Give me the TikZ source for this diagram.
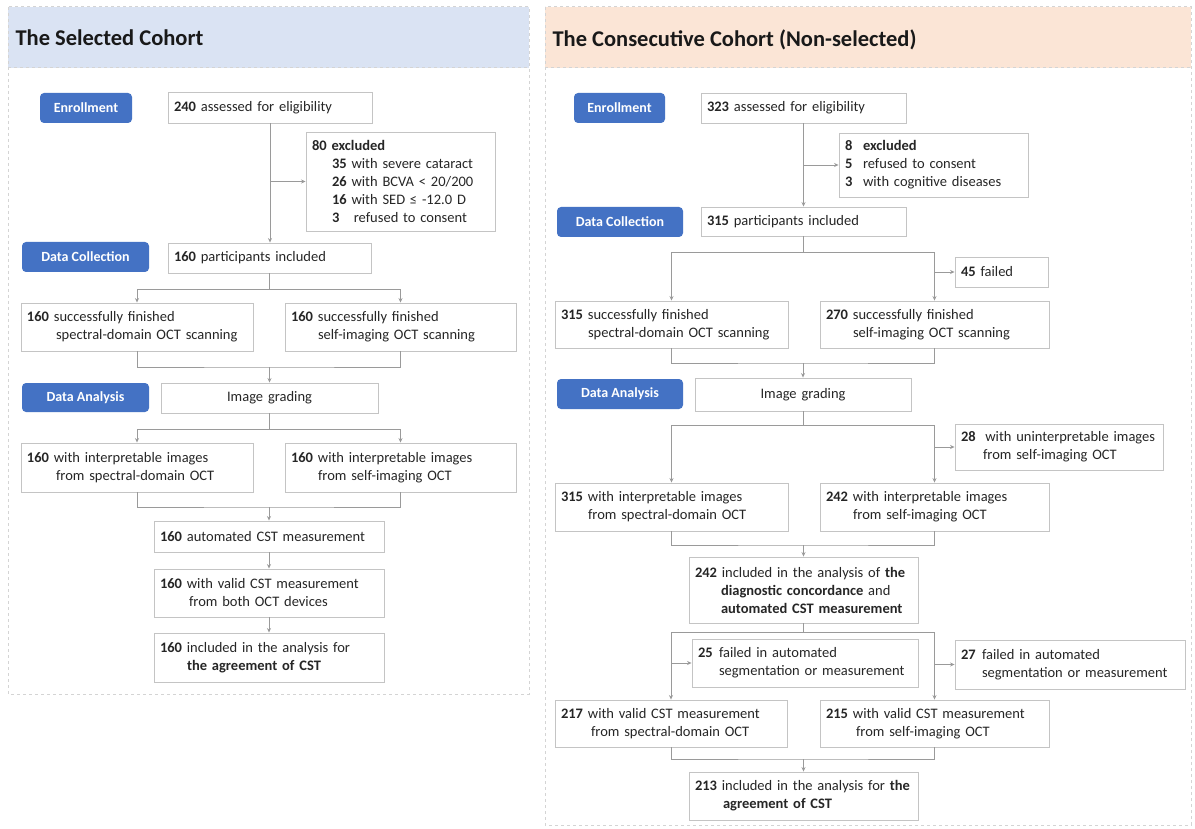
\documentclass[tikz,border=0pt]{standalone}
\usepackage{fontspec}
\setmainfont{Carlito}
\usetikzlibrary{arrows.meta}
\definecolor{btnblue}{HTML}{4472C4}
\definecolor{hdrblue}{HTML}{DAE3F3}
\definecolor{hdrpeach}{HTML}{FBE5D6}
\definecolor{boxline}{HTML}{C4C4C4}
\definecolor{arrline}{HTML}{9A9A9A}
\definecolor{panelline}{HTML}{D4D4D4}
\definecolor{txt}{HTML}{262626}
\tikzset{
  fbox/.style={draw=boxline, fill=white, line width=0.9pt, inner xsep=6pt, inner ysep=2pt,
    align=left, text=txt, font=\fontsize{14.5}{18}\selectfont},
  cbox/.style={fbox, align=center},
  btn/.style={fill=btnblue, rounded corners=4pt, text=white, inner sep=0pt,
    font=\fontsize{14}{17}\selectfont\bfseries},
  arr/.style={draw=arrline, line width=0.8pt, -{Stealth[length=4.5pt,width=4pt]}},
  lnk/.style={draw=arrline, line width=0.8pt},
  panel/.style={draw=panelline, line width=1pt, dash pattern=on 3pt off 3pt},
  ttl/.style={anchor=west, text=black!90, font=\fontsize{22.5}{27}\selectfont\bfseries}
}
\newcommand\flowbx[7][fbox]{%
  \pgfmathsetmacro\fbw{#5-#3}%
  \pgfmathsetmacro\fbh{#6-#4}%
  \pgfmathsetmacro\fbt{#5-#3-12}%
  \pgfmathsetmacro\fbx{(#3+#5)/2}%
  \pgfmathsetmacro\fby{(#4+#6)/2}%
  \node[#1, minimum width=\fbw pt, minimum height=\fbh pt, text width=\fbt pt] (#2) at (\fbx,\fby) {#7};}
\newcommand\flowbtn[6]{%
  \pgfmathsetmacro\fbw{#4-#2}%
  \pgfmathsetmacro\fbh{#5-#3}%
  \pgfmathsetmacro\fbx{(#2+#4)/2}%
  \pgfmathsetmacro\fby{(#3+#5)/2}%
  \node[btn, minimum width=\fbw pt, minimum height=\fbh pt] (#1) at (\fbx,\fby) {#6};}
\newcommand\ind[1]{\hspace*{#1pt}}
\newcommand\nb[2]{\makebox[#1pt][l]{\textbf{#2}}}
\begin{document}
\begin{tikzpicture}[x=1pt,y=-1pt]
\useasboundingbox (0,0) rectangle (1195,829);
\fill[white] (0,0) rectangle (1195,829);
% ---------- panels ----------
\fill[hdrblue] (8,7) rectangle (529,68);
\draw[panel] (8,7) rectangle (529,694);
\draw[panel] (8,68) -- (529,68);
\fill[hdrpeach] (545,7) rectangle (1191,68);
\draw[panel] (545,7) rectangle (1191,825);
\draw[panel] (545,68) -- (1191,68);
\node[ttl] (Ltitle) at (12,38) {The Selected Cohort};
\node[ttl] (Rtitle) at (549,40) {The Consecutive Cohort (Non-selected)};
% ---------- left cohort ----------
\flowbtn{Lbe}{40}{93}{132}{123}{Enrollment}
\flowbtn{Lbc}{22}{242}{149}{272}{Data Collection}
\flowbtn{Lba}{22}{383}{149}{412}{Data Analysis}
\flowbx{Lb240}{168}{92}{372}{123}{\textbf{240} assessed for eligibility}
\flowbx{Lex}{306}{132}{495}{231}{\textbf{80 excluded}\\\ind{20}\textbf{35} with severe cataract\\\ind{20}\textbf{26} with BCVA < 20/200\\\ind{20}\textbf{16} with SED ≤ -12.0 D\\\ind{20}\textbf{3}\ \ \ refused to consent}
\flowbx{Lp160}{168}{243}{371}{273}{\textbf{160} participants included}
\flowbx{Lsd1}{21}{303}{253}{351}{\textbf{160} successfully finished\\\ind{29}spectral-domain OCT scanning}
\flowbx{Lsi1}{285}{303}{516}{351}{\textbf{160} successfully finished\\\ind{27}self-imaging OCT scanning}
\flowbx[cbox]{Lig}{161}{383}{378}{413}{Image grading}
\flowbx{Lsd2}{21}{443}{253}{492}{\textbf{160} with interpretable images\\\ind{29}from spectral-domain OCT}
\flowbx{Lsi2}{285}{443}{516}{492}{\textbf{160} with interpretable images\\\ind{27}from self-imaging OCT}
\flowbx{Lcst}{154}{521}{384}{552}{\textbf{160} automated CST measurement}
\flowbx{Lval}{154}{569}{384}{617}{\textbf{160} with valid CST measurement\\\ind{29}from both OCT devices}
\flowbx{Linc}{154}{633}{384}{682}{\textbf{160} included in the analysis for\\\ind{27}\textbf{the agreement of CST}}
% left connectors
\draw[arr] (Lb240.south) -- (Lb240.south |- Lp160.north);
\draw[arr] (Lb240.south |- Lex.west) -- (Lex.west);
\coordinate (Ls1) at (269.5,289);
\draw[lnk] (Lp160.south) -- (Ls1);
\draw[arr] (Ls1) -| (Lsd1.north);
\draw[arr] (Ls1) -| (Lsi1.north);
\coordinate (Lj1) at (269.5,367);
\draw[lnk] (Lsd1.south) |- (Lj1) -| (Lsi1.south);
\draw[arr] (Lj1) -- (Lig.north);
\coordinate (Ls2) at (269.5,429);
\draw[lnk] (Lig.south) -- (Ls2);
\draw[arr] (Ls2) -| (Lsd2.north);
\draw[arr] (Ls2) -| (Lsi2.north);
\coordinate (Lj2) at (269,507);
\draw[lnk] (Lsd2.south) |- (Lj2) -| (Lsi2.south);
\draw[arr] (Lj2) -- (Lcst.north);
\draw[arr] (Lcst.south) -- (Lval.north);
\draw[arr] (Lval.south) -- (Linc.north);
% ---------- right cohort ----------
\flowbtn{Rbe}{574}{93}{665}{123}{Enrollment}
\flowbtn{Rbc}{557}{207}{683}{237}{Data Collection}
\flowbtn{Rba}{557}{379}{683}{409}{Data Analysis}
\flowbx{Rb323}{701}{93}{906}{123}{\textbf{323} assessed for eligibility}
\flowbx{Rex}{839}{133}{1028}{197}{\nb{18}{8}\textbf{excluded}\\\nb{18}{5}refused to consent\\\nb{18}{3}with cognitive diseases}
\flowbx{Rp315}{701}{207}{906}{236}{\textbf{315} participants included}
\flowbx{Rf45}{955}{257}{1048}{287}{\textbf{45} failed}
\flowbx{Rsd1}{555}{301}{788}{348}{\textbf{315} successfully finished\\\ind{27}spectral-domain OCT scanning}
\flowbx{Rsi1}{820}{301}{1049}{348}{\textbf{270} successfully finished\\\ind{27}self-imaging OCT scanning}
\flowbx[cbox]{Rig}{695}{378}{911}{411}{Image grading}
\flowbx{Ru28}{955}{424}{1163}{470}{\textbf{28}\ \ with uninterpretable images\\\ind{22}from self-imaging OCT}
\flowbx{Rsd2}{555}{483}{788}{531}{\textbf{315} with interpretable images\\\ind{27}from spectral-domain OCT}
\flowbx{Rsi2}{820}{483}{1049}{531}{\textbf{242} with interpretable images\\\ind{27}from self-imaging OCT}
\flowbx{Rinc1}{689}{557}{918}{623}{\textbf{242} included in the analysis of \textbf{the}\\\ind{26}\textbf{diagnostic concordance} and\\\ind{26}\textbf{automated CST measurement}}
\flowbx{Rf25}{692}{639}{918}{687}{\nb{21}{25}failed in automated\\\ind{21}segmentation or measurement}
\flowbx{Rf27}{955}{640}{1185}{689}{\nb{21}{27}failed in automated\\\ind{21}segmentation or measurement}
\flowbx{Rv217}{555}{700}{787}{747}{\textbf{217} with valid CST measurement\\\ind{30}from spectral-domain OCT}
\flowbx{Rv215}{820}{700}{1049}{747}{\textbf{215} with valid CST measurement\\\ind{30}from self-imaging OCT}
\flowbx{Rinc2}{689}{772}{918}{820}{\textbf{213} included in the analysis for \textbf{the}\\\ind{28}\textbf{agreement of CST}}
% right connectors
\draw[arr] (Rb323.south) -- (Rb323.south |- Rp315.north);
\draw[arr] (Rb323.south |- Rex.west) -- (Rex.west);
\coordinate (Rs1) at (803.5,252);
\draw[lnk] (Rp315.south) -- (Rs1);
\draw[arr] (Rs1) -| (Rsd1.north);
\draw[arr] (Rs1) -| (Rsi1.north);
\draw[arr] (Rsi1.north |- Rf45.west) -- (Rf45.west);
\coordinate (Rj1) at (803,363);
\draw[lnk] (Rsd1.south) |- (Rj1) -| (Rsi1.south);
\draw[arr] (Rj1) -- (Rig.north);
\coordinate (Rs2) at (803,425);
\draw[lnk] (Rig.south) -- (Rs2);
\draw[arr] (Rs2) -| (Rsd2.north);
\draw[arr] (Rs2) -| (Rsi2.north);
\draw[arr] (Rsi2.north |- Ru28.west) -- (Ru28.west);
\coordinate (Rj2) at (803.5,545);
\draw[lnk] (Rsd2.south) |- (Rj2) -| (Rsi2.south);
\draw[arr] (Rj2) -- (Rinc1.north);
\coordinate (Rs3) at (803.5,632);
\draw[lnk] (Rinc1.south) -- (Rs3);
\draw[arr] (Rs3) -| (Rv217.north);
\draw[arr] (Rs3) -| (Rv215.north);
\draw[arr] (Rv217.north |- Rf25.west) -- (Rf25.west);
\draw[arr] (Rv215.north |- Rf27.west) -- (Rf27.west);
\coordinate (Rj3) at (803.5,759);
\draw[lnk] (Rv217.south) |- (Rj3) -| (Rv215.south);
\draw[arr] (Rj3) -- (Rinc2.north);
\end{tikzpicture}
\end{document}
